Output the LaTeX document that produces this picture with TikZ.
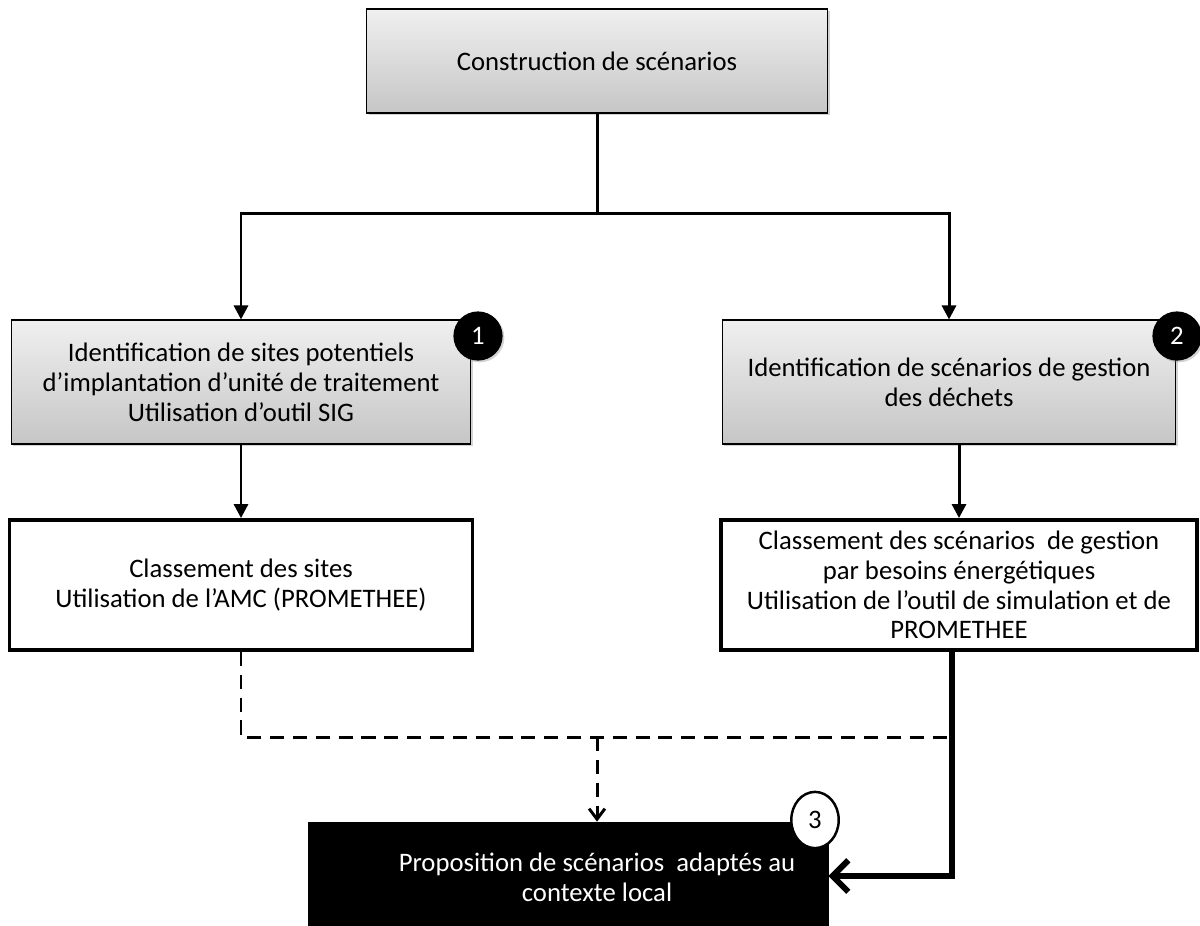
\documentclass[tikz,border=0pt]{standalone}
\usepackage{fontspec}
\setmainfont{Carlito}
\usetikzlibrary{arrows.meta, positioning, calc, shadows, shapes.geometric}
\tikzset{
    graybox/.style={draw=black, semithick, top color=gray!12, bottom color=gray!45, align=center, inner sep=0pt,
        drop shadow={opacity=0.35, shadow xshift=1.2pt, shadow yshift=-1.2pt}},
    whitebox/.style={draw=black, line width=2.2pt, fill=white, align=center, inner sep=0pt},
    darkbox/.style={draw=black, fill=black, inner sep=0pt},
    numdot/.style={circle, fill=black, text=white, minimum size=28pt, inner sep=0pt,
        drop shadow={opacity=0.35, shadow xshift=1pt, shadow yshift=-1pt}},
    numring/.style={ellipse, draw=black, line width=1.4pt, fill=white, minimum width=27pt, minimum height=32pt, inner sep=0pt},
    arrow/.style={-{Triangle[length=8pt,width=8pt]}, line width=1.7pt},
    line/.style={line width=1.7pt},
    dashline/.style={line width=1.7pt, dash pattern=on 8pt off 5pt},
    dasharrow/.style={-{Straight Barb[length=6pt,width=9pt]}, line width=1.7pt, dash pattern=on 8pt off 5pt},
    bigarrow/.style={-{Straight Barb[length=9pt,width=18pt]}, line width=3.4pt}
}
\begin{document}
\begin{tikzpicture}[x=0.02cm, y=-0.02cm, font=\fontsize{15.2}{17}\selectfont]
    \useasboundingbox (0,0) rectangle (1200,926);
    % boxes
    \node [graybox, minimum width=9.22cm, minimum height=2.08cm] (top) at (597,61) {Construction de scénarios};
    \node [graybox, minimum width=9.2cm, minimum height=2.48cm] (sites) at (241,382)
        {Identification de sites potentiels\\ d’implantation d’unité de traitement\\ Utilisation d’outil SIG};
    \node [graybox, minimum width=9.08cm, minimum height=2.48cm] (gestion) at (949,382)
        {Identification de scénarios de gestion\\ des déchets};
    \node [whitebox, minimum width=9.26cm, minimum height=2.6cm] (rank) at (241,585)
        {Classement des sites\\ Utilisation de l’AMC (PROMETHEE)};
    \node [whitebox, minimum width=9.52cm, minimum height=2.6cm] (energy) at (959,585)
        {Classement des scénarios\ \ de gestion\\ par besoins énergétiques\\ Utilisation de l’outil de simulation et de\\ PROMETHEE};
    \node [darkbox, minimum width=10.4cm, minimum height=2.16cm] (final) at (568,876) {};
    \node [text=white, align=center] (finaltxt) at (597,877) {Proposition de scénarios\ \ adaptés au\\ contexte local};
    % numbers
    \node [numdot] (n1) at (478,336) {1};
    \node [numdot] (n2) at (1177,336) {2};
    \node [numring] (n3) at (815,820) {3};
    % connectors
    \coordinate (split) at ($(top.south)+(0,100)$);
    \draw [line] (top.south) -- (split);
    \draw [arrow] (split) -| (sites.north);
    \draw [arrow] (split) -| (gestion.north);
    \draw [arrow] (sites.south) -- (rank.north);
    \draw [arrow] (energy.north |- gestion.south) -- (energy.north);
    \coordinate (dmid) at (597,737);
    \coordinate (dright) at (952,737);
    \draw [dashline] (rank.south) |- (dright);
    \draw [dasharrow] (dmid) -- (dmid |- final.north);
    \draw [bigarrow] (energy.south -| dright) |- (final.east);
\end{tikzpicture}
\end{document}
